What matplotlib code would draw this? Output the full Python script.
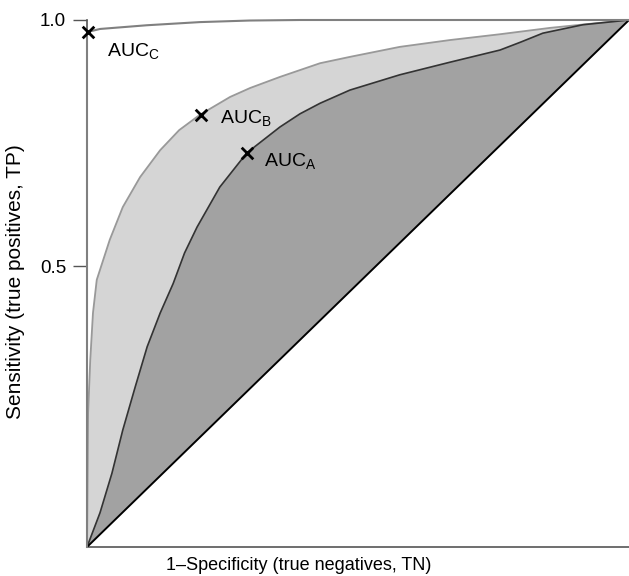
import matplotlib
matplotlib.use("Agg")
import matplotlib.pyplot as plt

plt.rcParams['font.family'] = ['Liberation Sans', 'DejaVu Sans']
plt.rcParams['mathtext.fontset'] = 'custom'
plt.rcParams['mathtext.rm'] = 'Liberation Sans'
plt.rcParams['mathtext.it'] = 'Liberation Sans'

# Curve C (near-perfect test)
c_x = [0.0, 0.0, 0.024, 0.110, 0.208, 0.300, 0.393, 1.0]
c_y = [0.0, 0.977, 0.983, 0.990, 0.996, 0.999, 1.0, 1.0]
# Curve B
b_x = [0.0, 0.001, 0.002, 0.006, 0.011, 0.018, 0.024, 0.042, 0.066, 0.098, 0.135, 0.170,
       0.208, 0.264, 0.301, 0.356, 0.393, 0.430, 0.485, 0.577, 0.670, 0.762, 0.854, 0.930, 1.0]
b_y = [0.0, 0.127, 0.254, 0.355, 0.444, 0.507, 0.526, 0.583, 0.645, 0.702, 0.753, 0.791,
       0.820, 0.854, 0.871, 0.892, 0.905, 0.918, 0.930, 0.949, 0.962, 0.973, 0.985, 0.993, 1.0]
# Curve A
a_x = [0.0, 0.024, 0.046, 0.066, 0.089, 0.111, 0.135, 0.159, 0.180, 0.203, 0.245, 0.295, 0.356,
       0.393, 0.430, 0.485, 0.577, 0.670, 0.762, 0.800, 0.841, 0.915, 1.0]
a_y = [0.0, 0.065, 0.140, 0.222, 0.304, 0.380, 0.444, 0.500, 0.558, 0.607, 0.683, 0.748, 0.797,
       0.822, 0.842, 0.867, 0.896, 0.920, 0.943, 0.958, 0.975, 0.991, 1.0]
# Chance diagonal
d_x = [0.0, 1.0]
d_y = [0.0, 1.0]

# Marked points
mark_x = [0.002, 0.210, 0.296]
mark_y = [0.977, 0.820, 0.748]
mark_labels = [r'AUC$_{\mathrm{C}}$', r'AUC$_{\mathrm{B}}$', r'AUC$_{\mathrm{A}}$']

ytick_vals = [0.533, 1.0]
ytick_labels = ['0.5', '1.0']

fig = plt.figure(figsize=(6.29, 5.76), dpi=100)
ax = fig.add_axes([87/629, 29/576, 542/629, 527/576])

# light region between B and A
ax.fill(b_x + a_x[::-1], b_y + a_y[::-1], color='#d5d5d5', lw=0, zorder=1)
# dark region between A and diagonal
ax.fill(a_x + d_x[::-1], a_y + d_y[::-1], color='#a2a2a2', lw=0, zorder=1)

ax.plot(b_x, b_y, color='#999999', lw=1.3, zorder=2)
ax.plot(a_x, a_y, color='#333333', lw=1.2, zorder=3)
ax.plot(d_x, d_y, color='black', lw=1.4, zorder=3)
ax.plot(c_x, c_y, color='#808080', lw=1.5, zorder=3, clip_on=False)

ax.scatter(mark_x, mark_y, marker='x', s=70, color='black', linewidths=2, zorder=5, clip_on=False)

offsets = [(0.035, -0.035), (0.035, -0.006), (0.030, -0.015)]
for (mx, my), lab, (dx, dy) in zip(zip(mark_x, mark_y), mark_labels, offsets):
    ax.text(mx + dx, my + dy, lab, fontsize=14, va='center', ha='left', color='black', zorder=6)

ax.set_xlim(0, 1)
ax.set_ylim(0, 1)
ax.set_xticks([])
ax.set_yticks(ytick_vals)
ax.set_yticklabels(ytick_labels, fontsize=13.5)
ax.tick_params(axis='y', length=10, width=1, color='#555555', pad=5)
for s in ['top', 'right']:
    ax.spines[s].set_visible(False)
for s in ['left', 'bottom']:
    ax.spines[s].set_color('#555555')
    ax.spines[s].set_linewidth(1.2)

fig.text(299/629, 1 - 565/576, '1–Specificity (true negatives, TN)', fontsize=13, ha='center', va='center')
fig.text(16/629, 1 - 282/576, 'Sensitivity (true positives, TP)', fontsize=15, ha='center', va='center', rotation=90)

fig.savefig('out.png', dpi=100)
